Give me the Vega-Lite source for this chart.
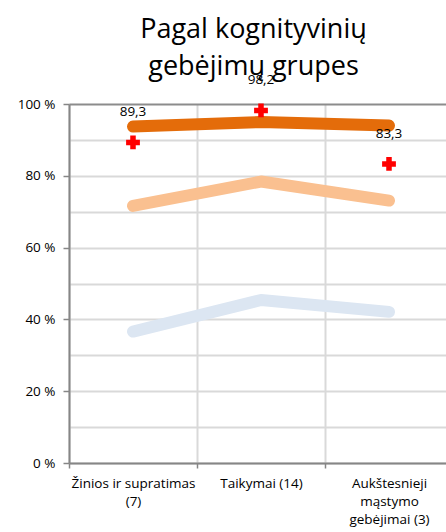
{
  "$schema": "https://vega.github.io/schema/vega-lite/v6.json",
  "width": 377,
  "height": 359,
  "autosize": "none",
  "padding": {"left": 69, "top": 104, "right": 0, "bottom": 69},
  "background": "white",
  "title": {
    "text": ["Pagal kognityvinių", "gebėjimų grupes"],
    "font": "Open Sans",
    "fontSize": 27,
    "fontWeight": "normal",
    "color": "black",
    "lineHeight": 37,
    "anchor": "middle",
    "dx": -4,
    "offset": -8
  },
  "config": {
    "view": {"stroke": null},
    "font": "Open Sans",
    "locale": {"number": {"decimal": ",", "thousands": " ", "grouping": [3], "currency": ["", ""]}}
  },
  "datasets": {
    "lines": [
      {"grupe": "Žinios ir supratimas (7)", "lygis": "Aukštesnysis", "proc": 36.6},
      {"grupe": "Taikymai (14)", "lygis": "Aukštesnysis", "proc": 45.4},
      {"grupe": "Aukštesnieji mąstymo gebėjimai (3)", "lygis": "Aukštesnysis", "proc": 42.1},
      {"grupe": "Žinios ir supratimas (7)", "lygis": "Pagrindinis", "proc": 71.6},
      {"grupe": "Taikymai (14)", "lygis": "Pagrindinis", "proc": 78.4},
      {"grupe": "Aukštesnieji mąstymo gebėjimai (3)", "lygis": "Pagrindinis", "proc": 73.1},
      {"grupe": "Žinios ir supratimas (7)", "lygis": "Patenkinamas", "proc": 93.7},
      {"grupe": "Taikymai (14)", "lygis": "Patenkinamas", "proc": 95.0},
      {"grupe": "Aukštesnieji mąstymo gebėjimai (3)", "lygis": "Patenkinamas", "proc": 94.0}
    ],
    "points": [
      {"grupe": "Žinios ir supratimas (7)", "proc": 89.3},
      {"grupe": "Taikymai (14)", "proc": 98.2},
      {"grupe": "Aukštesnieji mąstymo gebėjimai (3)", "proc": 83.3}
    ]
  },
  "encoding": {
    "x": {
      "field": "grupe",
      "type": "nominal",
      "sort": ["Žinios ir supratimas (7)", "Taikymai (14)", "Aukštesnieji mąstymo gebėjimai (3)"],
      "scale": {"type": "band", "paddingInner": 0, "paddingOuter": 0, "range": [0, 384]},
      "axis": {
        "title": null,
        "labelAngle": 0,
        "labelFont": "Open Sans",
        "labelFontSize": 13.5,
        "labelColor": "black",
        "labelLineHeight": 18,
        "labelPadding": 8,
        "labelExpr": "datum.value == 'Žinios ir supratimas (7)' ? ['Žinios ir supratimas', '(7)'] : datum.value == 'Aukštesnieji mąstymo gebėjimai (3)' ? ['Aukštesnieji', 'mąstymo', 'gebėjimai (3)'] : datum.value",
        "tickBand": "extent",
        "ticks": true,
        "tickSize": 5,
        "tickColor": "#868686",
        "tickWidth": 1.5,
        "domainColor": "#868686",
        "domainWidth": 2,
        "grid": true,
        "gridColor": "#d9d9d9",
        "gridWidth": 2
      }
    },
    "y": {
      "field": "proc",
      "type": "quantitative",
      "scale": {"domain": [0, 100], "nice": false},
      "axis": {
        "title": null,
        "values": [0, 10, 20, 30, 40, 50, 60, 70, 80, 90, 100],
        "labelExpr": "datum.value % 20 === 0 ? datum.value + ' %' : ''",
        "labelFont": "Open Sans",
        "labelFontSize": 13.5,
        "labelColor": "black",
        "labelPadding": 8,
        "tickSize": 6,
        "tickColor": "#868686",
        "tickWidth": 1.5,
        "tickOpacity": {"condition": {"test": "datum.value % 20 === 0", "value": 1}, "value": 0},
        "domainColor": "#868686",
        "domainWidth": 2,
        "grid": true,
        "gridColor": {"condition": {"test": "datum.value === 100", "value": "#8c8c8c"}, "value": "#d9d9d9"},
        "gridWidth": 2
      }
    }
  },
  "layer": [
    {
      "data": {"name": "lines"},
      "mark": {"type": "line", "strokeWidth": 12, "strokeCap": "round", "strokeJoin": "round"},
      "encoding": {
        "color": {
          "field": "lygis",
          "type": "nominal",
          "scale": {"domain": ["Aukštesnysis", "Pagrindinis", "Patenkinamas"], "range": ["#dce6f2", "#fac090", "#e46c0a"]},
          "legend": null
        },
        "order": {"field": "lygis"}
      }
    },
    {
      "data": {"name": "points"},
      "mark": {"type": "point", "shape": "cross", "filled": true, "size": 190, "color": "#ff0000", "opacity": 1}
    },
    {
      "data": {"name": "points"},
      "mark": {"type": "text", "dy": -30, "font": "Open Sans", "fontSize": 13.5, "color": "black"},
      "encoding": {"text": {"field": "proc", "type": "quantitative", "format": ".1f"}}
    }
  ]
}
